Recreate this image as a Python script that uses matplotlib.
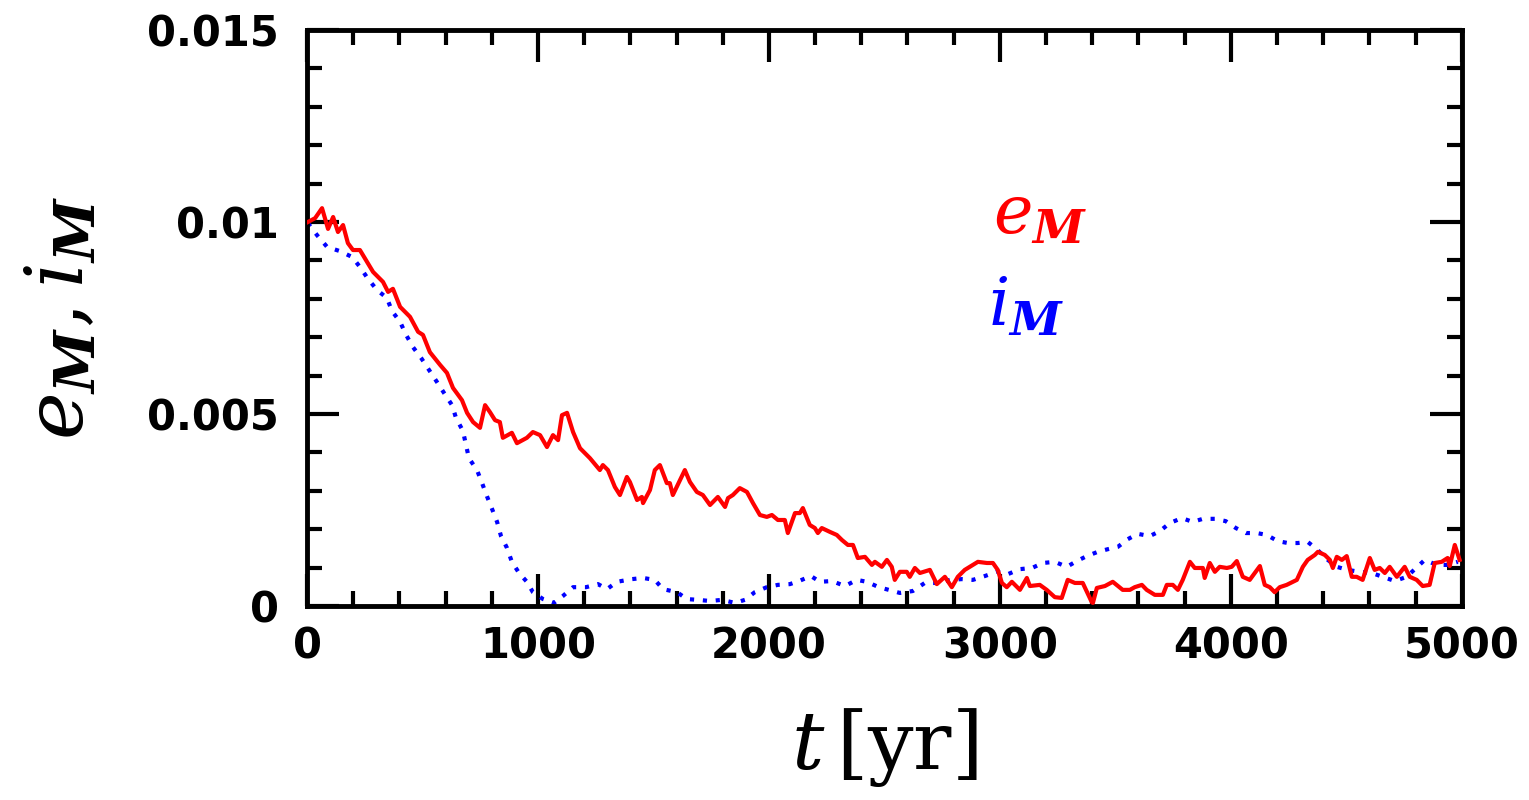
import numpy as np
import matplotlib
matplotlib.use("Agg")
import matplotlib.pyplot as plt
from matplotlib.ticker import MultipleLocator, FixedFormatter, FixedLocator

# eccentricity and inclination of the migrating body
t_e = [4, 35, 65, 91, 113, 134, 156, 177, 199, 229, 260, 286, 329, 351, 372, 403,
       446, 481, 502, 532, 576, 606, 632, 671, 693, 719, 749, 771, 792, 814, 835,
       848, 887, 909, 952, 978, 1009, 1039, 1065, 1087, 1104, 1126, 1152, 1182,
       1225, 1268, 1281, 1303, 1333, 1355, 1385, 1398, 1429, 1450, 1455, 1485,
       1506, 1528, 1558, 1571, 1584, 1615, 1636, 1658, 1688, 1714, 1745, 1766,
       1779, 1810, 1823, 1844, 1874, 1905, 1931, 1961, 1991, 2013, 2039, 2069,
       2082, 2113, 2134, 2147, 2177, 2199, 2212, 2229, 2264, 2294, 2316, 2342,
       2364, 2385, 2416, 2446, 2459, 2489, 2511, 2532, 2545, 2567, 2597, 2610,
       2632, 2654, 2697, 2727, 2762, 2792, 2818, 2848, 2870, 2905, 2944, 2970,
       2991, 3009, 3030, 3052, 3087, 3117, 3130, 3173, 3203, 3238, 3268, 3294,
       3325, 3359, 3398, 3403, 3420, 3455, 3489, 3532, 3563, 3584, 3615, 3636,
       3671, 3706, 3723, 3749, 3771, 3792, 3823, 3844, 3879, 3887, 3909, 3931,
       3952, 3983, 4004, 4026, 4052, 4082, 4104, 4126, 4147, 4169, 4190, 4212,
       4242, 4286, 4312, 4333, 4364, 4377, 4407, 4429, 4442, 4459, 4481, 4502,
       4524, 4545, 4571, 4602, 4623, 4645, 4667, 4688, 4719, 4753, 4775, 4805,
       4831, 4861, 4883, 4913, 4939, 4948, 4970, 4991]
e_M = [10.0, 10.10, 10.36, 9.82, 10.13, 9.74, 9.92, 9.45, 9.27, 9.27, 8.96, 8.70,
       8.44, 8.18, 8.26, 7.79, 7.53, 7.14, 7.06, 6.61, 6.28, 6.07, 5.68, 5.36,
       5.03, 4.79, 4.64, 5.23, 5.05, 4.84, 4.79, 4.38, 4.51, 4.24, 4.38, 4.53,
       4.45, 4.14, 4.45, 4.32, 4.97, 5.03, 4.53, 4.11, 3.85, 3.54, 3.67, 3.54,
       3.10, 2.89, 3.36, 3.23, 2.76, 2.84, 2.68, 3.02, 3.54, 3.67, 3.20, 3.20,
       2.89, 3.28, 3.54, 3.23, 2.97, 2.89, 2.63, 2.76, 2.84, 2.58, 2.81, 2.89,
       3.07, 2.97, 2.68, 2.37, 2.32, 2.37, 2.24, 2.24, 1.90, 2.42, 2.42, 2.55,
       2.11, 2.03, 1.90, 2.03, 1.93, 1.85, 1.72, 1.59, 1.59, 1.25, 1.28, 1.07,
       1.15, 1.02, 1.20, 1.02, 0.68, 0.89, 0.89, 0.76, 0.99, 0.86, 0.94, 0.57,
       0.76, 0.49, 0.76, 0.94, 1.02, 1.15, 1.12, 1.12, 0.94, 0.60, 0.49, 0.63,
       0.42, 0.73, 0.52, 0.55, 0.42, 0.23, 0.21, 0.68, 0.60, 0.60, 0.10, 0.08,
       0.47, 0.52, 0.63, 0.42, 0.42, 0.49, 0.55, 0.42, 0.29, 0.29, 0.55, 0.55,
       0.42, 0.68, 1.15, 0.99, 0.99, 0.73, 1.12, 0.89, 1.02, 0.99, 1.02, 1.17,
       0.76, 0.68, 0.86, 1.04, 0.55, 0.49, 0.36, 0.49, 0.55, 0.68, 1.02, 1.20,
       1.33, 1.41, 1.33, 1.20, 0.99, 1.28, 1.20, 1.30, 0.76, 0.76, 0.68, 1.25,
       0.94, 0.99, 0.86, 1.02, 0.76, 1.02, 0.76, 0.68, 0.52, 0.55, 1.12, 1.15,
       1.25, 1.04, 1.59, 1.20]

t_i = [4, 43, 87, 143, 195, 229, 264, 303, 346, 368, 403, 429, 459, 494, 528,
       563, 593, 628, 645, 675, 701, 736, 758, 779, 801, 823, 840, 866, 887, 918,
       952, 978, 1022, 1069, 1108, 1152, 1208, 1260, 1299, 1342, 1407, 1455,
       1506, 1541, 1602, 1645, 1693, 1745, 1797, 1853, 1896, 1939, 1991, 2039,
       2091, 2130, 2182, 2221, 2273, 2329, 2381, 2424, 2476, 2519, 2567, 2623,
       2675, 2732, 2784, 2835, 2883, 2935, 2987, 3035, 3087, 3139, 3186, 3238,
       3290, 3333, 3377, 3424, 3468, 3511, 3554, 3597, 3649, 3693, 3736, 3788,
       3835, 3879, 3931, 3978, 4022, 4065, 4113, 4156, 4203, 4247, 4290, 4333,
       4372, 4416, 4459, 4506, 4558, 4610, 4658, 4710, 4762, 4797, 4840, 4892,
       4939, 4983]
i_M = [9.97, 9.66, 9.35, 9.24, 9.09, 8.83, 8.52, 8.23, 8.02, 7.68, 7.40, 7.06,
       6.74, 6.46, 6.15, 5.83, 5.55, 5.23, 4.90, 4.56, 3.85, 3.54, 3.20, 2.86,
       2.53, 2.19, 1.82, 1.51, 1.15, 0.86, 0.63, 0.36, 0.18, 0.08, 0.26, 0.49,
       0.49, 0.57, 0.44, 0.63, 0.70, 0.73, 0.68, 0.44, 0.36, 0.18, 0.16, 0.13,
       0.16, 0.08, 0.16, 0.36, 0.49, 0.55, 0.57, 0.65, 0.78, 0.63, 0.65, 0.52,
       0.68, 0.63, 0.49, 0.42, 0.34, 0.39, 0.60, 0.60, 0.68, 0.70, 0.68, 0.78,
       0.89, 0.83, 0.96, 0.99, 1.12, 1.15, 1.02, 1.17, 1.30, 1.41, 1.48, 1.54,
       1.74, 1.88, 1.82, 1.95, 2.16, 2.29, 2.19, 2.27, 2.27, 2.21, 2.03, 1.90,
       1.90, 1.85, 1.69, 1.64, 1.64, 1.67, 1.48, 1.22, 1.02, 0.94, 0.89, 0.86,
       0.76, 0.65, 0.76, 0.96, 1.20, 1.07, 1.07, 1.15]

y_ticks = [0, 0.005, 0.01, 0.015]
y_labels = ["0", "0.005", "0.01", "0.015"]

plt.rcParams['mathtext.fontset'] = 'dejavuserif'
plt.rcParams['font.family'] = ['DejaVu Sans']

fig = plt.figure(figsize=(15.29, 8.0), dpi=100)
ax = fig.add_axes([0.2008, 0.2425, 0.7552, 0.72])

ax.plot(t_e, np.array(e_M) * 1e-3, color='#ff0000', lw=3.0, zorder=3)
ax.plot(t_i, np.array(i_M) * 1e-3, color='#0000ff', lw=3.0,
        linestyle=(0, (1.0, 2.1)), zorder=2)

ax.set_xlim(0, 5000)
ax.set_ylim(0, 0.015)
ax.xaxis.set_major_locator(MultipleLocator(1000))
ax.xaxis.set_minor_locator(MultipleLocator(200))
ax.yaxis.set_major_locator(FixedLocator(y_ticks))
ax.yaxis.set_major_formatter(FixedFormatter(y_labels))
ax.yaxis.set_minor_locator(MultipleLocator(0.001))

ax.tick_params(which='both', direction='in', top=True, right=True, width=3)
ax.tick_params(which='major', length=23)
ax.tick_params(which='minor', length=11)
ax.tick_params(axis='x', which='major', pad=14)
ax.tick_params(axis='y', which='major', pad=20)
for lab in ax.get_xticklabels() + ax.get_yticklabels():
    lab.set_fontsize(30)
    lab.set_fontweight('bold')
for sp in ax.spines.values():
    sp.set_linewidth(3.5)

ax.set_xlabel(r'$t\,[\mathrm{yr}]$', fontsize=58, labelpad=28)
ax.set_ylabel(r'$e_{\mathbfit{M}},i_{\mathbfit{M}}$', fontsize=58, labelpad=34)

ax.text(2970, 0.0097, r'$e_{\mathbfit{M}}$', color='#ff0000', fontsize=48)
ax.text(2950, 0.0073, r'$i_{\mathbfit{M}}$', color='#0000ff', fontsize=48)

fig.savefig('out.png', dpi=100)
